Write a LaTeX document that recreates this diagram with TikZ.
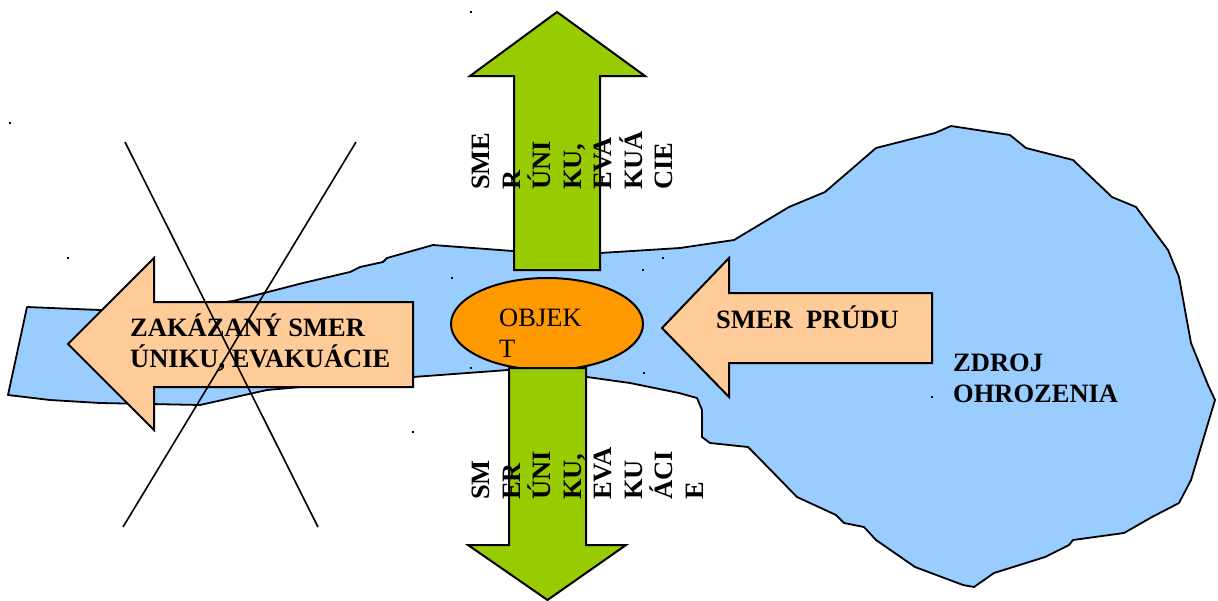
\documentclass[tikz,border=0pt]{standalone}
\usepackage{fontspec}
\setmainfont{Liberation Serif}
\usetikzlibrary{shapes.geometric}
\definecolor{lakeblue}{HTML}{99CCFF}
\definecolor{arrgreen}{HTML}{99CC00}
\definecolor{objorange}{HTML}{FF9900}
\definecolor{peach}{HTML}{FFCC99}
\tikzset{
  outl/.style={draw=black, line width=2pt, line join=miter},
  lake/.style={outl, fill=lakeblue, line width=1.8pt, line join=round},
  greenarrow/.style={outl, fill=arrgreen},
  peacharrow/.style={outl, fill=peach},
  boldtxt/.style={font=\bfseries\fontsize{26.5}{31}\selectfont, inner sep=0pt, align=left},
  vtxt/.style={font=\bfseries\fontsize{26.5}{30.5}\selectfont, inner sep=0pt, align=left, rotate=90, anchor=north west},
  crossline/.style={draw=black, line width=1.6pt},
  speck/.style={fill=black, minimum size=2.5pt, inner sep=0pt, draw=none}
}
\begin{document}
\begin{tikzpicture}[x=1pt, y=-1pt]
\useasboundingbox (0,0) rectangle (1218,600);
% water / lake
\draw[lake] (27,307) -- (100,310) -- (180,308) -- (233,301) -- (303,283) -- (350,272) -- (360,267)
  -- (383,262) -- (387,258) -- (433,245) -- (513,251) -- (600,253) -- (680,248) -- (734,240)
  -- (789,207) -- (825,192) -- (876,148) -- (935,133) -- (951,126) -- (1010,135) -- (1026,148)
  -- (1073,160) -- (1112,197) -- (1136,207) -- (1168,250) -- (1179,277) -- (1191,343)
  -- (1208,385) -- (1215,400) -- (1203,440) -- (1191,480) -- (1179,503) -- (1152,517)
  -- (1124,533) -- (1073,540) -- (1069,545) -- (1045,557) -- (994,573) -- (974,587)
  -- (963,585) -- (915,567) -- (876,540) -- (864,527) -- (844,523) -- (836,515) -- (797,497)
  -- (754,453) -- (748,447) -- (710,443) -- (702,437) -- (702,410) -- (697,398) -- (679,393)
  -- (630,383) -- (587,377) -- (508,370) -- (413,377) -- (267,390) -- (200,405) -- (100,403)
  -- (50,400) -- (8,395) -- cycle;
% forbidden direction arrow
\draw[peacharrow] (68,344) -- (154,258) -- (154,302) -- (413,302) -- (413,387) -- (154,387) -- (154,430) -- cycle;
\node[boldtxt, anchor=base west] (zakaz) at (130,367) {ZAKÁZANÝ SMER\\ÚNIKU, EVAKUÁCIE};
% cross
\coordinate (c1a) at (125,142); \coordinate (c1b) at (318,527);
\coordinate (c2a) at (356,142); \coordinate (c2b) at (123,527);
\draw[crossline] (c1a) -- (c1b);
\draw[crossline] (c2a) -- (c2b);
% current direction arrow
\draw[peacharrow] (662,328) -- (729,258) -- (729,293) -- (932,293) -- (932,363) -- (729,363) -- (729,397) -- cycle;
\node[boldtxt, anchor=base west] (prud) at (716,328) {SMER\ \ PRÚDU};
\node[boldtxt, anchor=base west] (zdroj) at (953,402) {ZDROJ\\OHROZENIA};
% up arrow
\draw[greenarrow] (557,12) -- (645,76) -- (600,76) -- (600,270) -- (514,270) -- (514,76) -- (470,76) -- cycle;
% object
\node[ellipse, outl, fill=objorange, minimum width=192pt, minimum height=92pt, inner sep=0pt] (objekt) at (547,324) {};
\node[font=\fontsize{26.5}{31}\selectfont, inner sep=0pt, align=left, anchor=base west] (objtext) at (499,357) {OBJEK\\T};
% down arrow
\draw[greenarrow] (509,368) -- (586,368) -- (586,545) -- (626,545) -- (547.5,600) -- (468,545) -- (509,545) -- cycle;
% vertical texts
\node[vtxt] (uptext) at (472,190) {SME\\R\\ÚNI\\KU,\\EVA\\KUÁ\\CIE};
\node[vtxt] (downtext) at (472,500) {SM\\ER\\ÚNI\\KU,\\EVA\\KU\\ÁCI\\E};
% stray specks
\foreach \p [count=\i] in {(471,12),(10,123),(68,258),(452,278),(471,368),(413,432),(643,270),(663,258),(644,373),(932,397)}
  \node[speck] (s\i) at \p {};
\end{tikzpicture}
\end{document}
